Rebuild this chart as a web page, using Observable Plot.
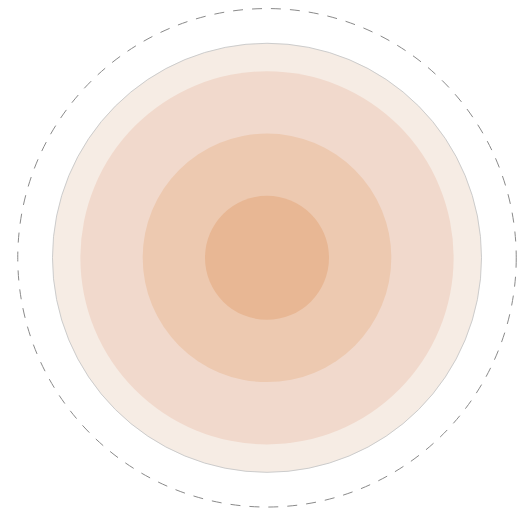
<!DOCTYPE html>
<html>
<head>
<meta charset="utf-8">
<script src="https://cdn.jsdelivr.net/npm/d3@7"></script>
<script src="https://cdn.jsdelivr.net/npm/@observablehq/plot@0.6"></script>
<style>
  html, body { margin: 0; padding: 0; background: #fff; }
  #chart svg { display: block; }
</style>
</head>
<body>
<div id="chart"></div>
<script>
// Ring names, radii (in radius units) and colours, largest first
const rings = ["outer", "second", "third", "inner"];
const ringRadius = [3.46, 3.01, 2.005, 1];
const ringFill = ["#f6ece4", "#f1d9cc", "#edc9b0", "#e8b794"];
const limitRadius = [4.02];

const ringData = rings.map((name, i) => ({name, r: ringRadius[i], fill: ringFill[i], x: 0, y: 0}));
const limitData = limitRadius.map(r => ({r, x: 0, y: 0}));

const chart = Plot.plot({
  width: 523,
  height: 512,
  margin: 0,
  x: {domain: [-266.5, 256.5], axis: null},
  y: {domain: [-254.7, 257.3], axis: null},
  r: {type: "linear", domain: [0, 4], range: [0, 248]},
  style: {background: "#fff"},
  marks: [
    Plot.dot(limitData, {x: "x", y: "y", r: "r", fill: "none", stroke: "#8a8a8a", strokeWidth: 1, strokeDasharray: "10,9"}),
    Plot.dot(ringData.slice(0, 1), {x: "x", y: "y", r: "r", fill: d => d.fill, stroke: "#cccccc", strokeWidth: 1}),
    Plot.dot(ringData.slice(1), {x: "x", y: "y", r: "r", fill: d => d.fill, stroke: "none"})
  ]
});
document.getElementById("chart").appendChild(chart);
</script>
</body>
</html>
